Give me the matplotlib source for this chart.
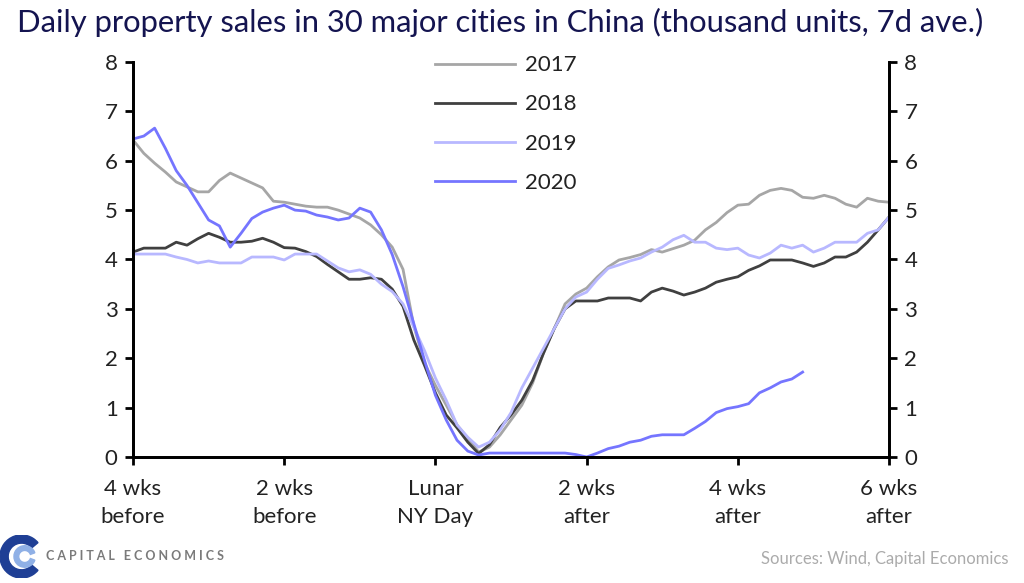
import numpy as np
import matplotlib
matplotlib.use("Agg")
import matplotlib.pyplot as plt
from matplotlib.patches import Wedge, Circle

plt.rcParams['font.family'] = ['Lato', 'DejaVu Sans']

# days relative to Lunar New Year
days = list(range(-28, 43))

s2017 = [6.42, 6.15, 5.95, 5.77, 5.57, 5.47, 5.37, 5.37, 5.60, 5.75,
         5.65, 5.55, 5.45, 5.18, 5.16, 5.12, 5.08, 5.06, 5.06, 5.00,
         4.92, 4.84, 4.70, 4.50, 4.25, 3.80, 2.65, 1.90, 1.45, 1.05,
         0.65, 0.38, 0.10, 0.20, 0.45, 0.75, 1.05, 1.50, 2.10, 2.60,
         3.10, 3.30, 3.42, 3.65, 3.85, 3.99, 4.04, 4.10, 4.20, 4.15,
         4.22, 4.29, 4.39, 4.60, 4.75, 4.95, 5.10, 5.12, 5.30, 5.40,
         5.44, 5.40, 5.26, 5.24, 5.30, 5.24, 5.12, 5.06, 5.24, 5.18,
         5.16]

s2018 = [4.15, 4.23, 4.23, 4.23, 4.35, 4.29, 4.42, 4.53, 4.45, 4.35,
         4.35, 4.37, 4.43, 4.35, 4.24, 4.23, 4.16, 4.06, 3.90, 3.75,
         3.60, 3.60, 3.63, 3.60, 3.40, 3.05, 2.37, 1.85, 1.30, 0.85,
         0.59, 0.30, 0.07, 0.25, 0.60, 0.85, 1.15, 1.55, 2.10, 2.60,
         3.00, 3.16, 3.16, 3.16, 3.22, 3.22, 3.22, 3.16, 3.34, 3.42,
         3.36, 3.28, 3.34, 3.42, 3.54, 3.60, 3.65, 3.78, 3.87, 3.99,
         3.99, 3.99, 3.93, 3.86, 3.93, 4.05, 4.05, 4.15, 4.35, 4.60,
         4.86]

s2019 = [4.11, 4.11, 4.11, 4.11, 4.05, 4.00, 3.93, 3.97, 3.93, 3.93,
         3.93, 4.05, 4.05, 4.05, 3.99, 4.11, 4.11, 4.11, 3.97, 3.83,
         3.75, 3.79, 3.70, 3.50, 3.35, 3.10, 2.63, 2.15, 1.60, 1.15,
         0.65, 0.40, 0.20, 0.30, 0.55, 0.90, 1.40, 1.80, 2.20, 2.60,
         3.00, 3.24, 3.34, 3.60, 3.82, 3.89, 3.97, 4.03, 4.15, 4.25,
         4.40, 4.49, 4.35, 4.35, 4.23, 4.20, 4.23, 4.09, 4.03, 4.13,
         4.29, 4.23, 4.29, 4.15, 4.23, 4.35, 4.35, 4.35, 4.53, 4.60,
         4.86]

# 2020 data only runs to day 34
s2020 = [6.44, 6.50, 6.66, 6.25, 5.80, 5.50, 5.15, 4.80, 4.68, 4.25,
         4.53, 4.83, 4.96, 5.04, 5.10, 5.00, 4.98, 4.90, 4.86, 4.80,
         4.84, 5.04, 4.96, 4.60, 4.10, 3.45, 2.70, 1.95, 1.25, 0.75,
         0.34, 0.12, 0.04, 0.08, 0.08, 0.08, 0.08, 0.08, 0.08, 0.08,
         0.08, 0.05, 0.00, 0.08, 0.17, 0.22, 0.30, 0.34, 0.42, 0.45,
         0.45, 0.45, 0.58, 0.72, 0.90, 0.98, 1.02, 1.08, 1.30, 1.40,
         1.52, 1.58, 1.72]

tick_days = [-28, -14, 0, 14, 28, 42]
tick_labels = ['4 wks\nbefore', '2 wks\nbefore', 'Lunar\nNY Day',
               '2 wks\nafter', '4 wks\nafter', '6 wks\nafter']

fig = plt.figure(figsize=(10.24, 5.83), dpi=100)
ax = fig.add_axes([0.1299, 0.2161, 0.7383, 0.6776])

lw = 2.0
ax.plot(days, s2017, color='#a6a6a6', lw=lw, label='2017')
ax.plot(days, s2018, color='#404040', lw=lw, label='2018')
ax.plot(days, s2019, color='#b8b8ff', lw=lw, label='2019')
ax.plot(days[:len(s2020)], s2020, color='#7575ff', lw=lw, label='2020')

ax.set_xlim(-28, 42)
ax.set_ylim(0, 8)
ax.set_xticks(tick_days)
ax.set_xticklabels(tick_labels, fontsize=16, color='#222222', linespacing=1.5)
ax.set_yticks(range(0, 9))
ax.tick_params(axis='both', direction='out', length=6, width=2, labelsize=16,
               labelcolor='#222222')
ax.tick_params(axis='y', pad=5)
ax.tick_params(axis='x', pad=10)

ax2 = ax.twinx()
ax2.set_ylim(0, 8)
ax2.set_yticks(range(0, 9))
ax2.tick_params(axis='y', direction='out', length=6, width=2, labelsize=16,
                labelcolor='#222222', pad=5)

for a in (ax, ax2):
    a.spines['top'].set_visible(False)
    for s in ('left', 'right', 'bottom'):
        a.spines[s].set_linewidth(2)
        a.spines[s].set_color('black')

leg = ax.legend(loc='upper left', bbox_to_anchor=(0.385, 1.045), frameon=False,
                fontsize=16, handlelength=3.6, handletextpad=0.45,
                labelspacing=0.86, borderpad=0)
for t in leg.get_texts():
    t.set_color('#222222')

fig.text(0.017, 0.945, 'Daily property sales in 30 major cities in China (thousand units, 7d ave.)',
         fontsize=22.3, color='#141450', ha='left', va='baseline')

# logo
lax = fig.add_axes([0.0, 0.008, 0.042, 0.075])
lax.set_xlim(-1, 1)
lax.set_ylim(-1, 1)
lax.set_aspect('equal')
lax.axis('off')
lax.add_patch(Wedge((0, 0), 1.0, 40, 320, width=0.38, color='#1f3f95'))
lax.add_patch(Wedge((0.15, 0), 0.5, 20, 340, width=0.22, color='#8fb0e6'))
fig.text(0.045, 0.047, 'C A P I T A L   E C O N O M I C S', fontsize=9,
         color='#7a7a7a', fontweight='bold', ha='left', va='center')

fig.text(0.985, 0.032, 'Sources: Wind, Capital Economics', fontsize=12,
         color='#ababab', ha='right', va='baseline')

fig.savefig('out.png', dpi=100)
